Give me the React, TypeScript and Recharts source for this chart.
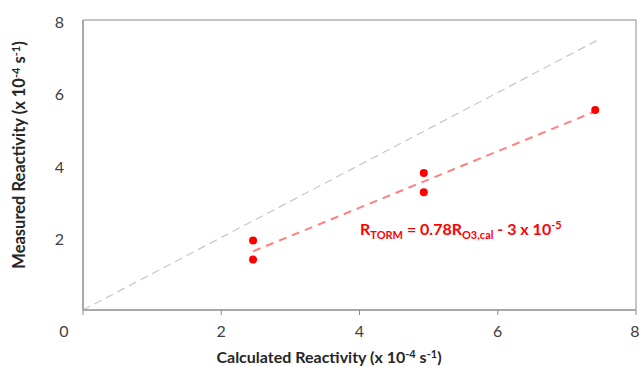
import React from 'react';
import {
  ScatterChart,
  Scatter,
  XAxis,
  YAxis,
  ReferenceArea,
  ReferenceLine,
} from 'recharts';

// measured vs calculated reactivity (x 10^-4 s^-1)
const calculated = [2.46, 2.46, 4.93, 4.93, 7.41];
const measured = [1.92, 1.39, 3.78, 3.25, 5.52];

const xTicks = [0, 2, 4, 6, 8];
const yTicks = [2, 4, 6, 8];

// fit from the equation in the chart: R = 0.78 R_cal - 0.3 (x 10^-4)
const fitSlope = 0.78;
const fitIntercept = -0.3;
const oneToOneEnd = 7.43;

const points = calculated.map((x, i) => ({ x, y: measured[i] }));
const xMin = Math.min(...calculated);
const xMax = Math.max(...calculated);
const fitLine = [
  { x: xMin, y: fitSlope * xMin + fitIntercept },
  { x: xMax, y: fitSlope * xMax + fitIntercept },
];

const FONT = 'Lato, "Open Sans", sans-serif';
const AXIS_GREY = '#8c8c8c';

const XTick = (props: any) => {
  const { x, y, payload } = props;
  const dx = payload.value === 0 ? -19 : 0;
  return (
    <text x={x + dx} y={y} dy={12} textAnchor="middle" fill="#404040" fontSize={16} fontFamily={FONT}>
      {payload.value}
    </text>
  );
};

const XTitle = () => (
  <text x={329} y={363} textAnchor="middle" fontFamily={FONT} fontWeight={700} fontSize={16} fill="#262626">
    Calculated Reactivity (x 10
    <tspan dy={-5} fontSize={11}>-4</tspan>
    <tspan dy={5}> s</tspan>
    <tspan dy={-5} fontSize={11}>-1</tspan>
    <tspan dy={5}>)</tspan>
  </text>
);

const YTitle = () => (
  <text
    x={0}
    y={0}
    transform="translate(25, 155) rotate(-90)"
    textAnchor="middle"
    fontFamily={FONT}
    fontWeight={700}
    fontSize={16.5}
    fill="#262626"
  >
    Measured Reactivity (x 10
    <tspan dy={-5} fontSize={11}>-4</tspan>
    <tspan dy={5}> s</tspan>
    <tspan dy={-5} fontSize={11}>-1</tspan>
    <tspan dy={5}>)</tspan>
  </text>
);

const Equation = () => (
  <text x={360} y={235} fontFamily={FONT} fontWeight={700} fontSize={16} fill="#ff0000">
    R
    <tspan dy={4} fontSize={11}>TORM</tspan>
    <tspan dy={-4}> = 0.78R</tspan>
    <tspan dy={4} fontSize={11}>O3,cal</tspan>
    <tspan dy={-4}> - 3 x 10</tspan>
    <tspan dy={-6} fontSize={11}>-5</tspan>
  </text>
);

export default function App() {
  return (
    <div style={{ position: 'absolute', left: 0, top: 0, width: 639, height: 366, background: '#fff' }}>
      <ScatterChart width={639} height={366} margin={{ top: 20, right: 3, left: 23, bottom: 26 }}>
        <XAxis
          type="number"
          dataKey="x"
          domain={[0, 8]}
          ticks={xTicks}
          height={30}
          tick={<XTick />}
          tickSize={5}
          tickMargin={10}
          stroke={AXIS_GREY}
          tickLine={{ stroke: AXIS_GREY }}
          label={<XTitle />}
        />
        <YAxis
          type="number"
          dataKey="y"
          domain={[0, 8]}
          ticks={yTicks}
          width={60}
          tickLine={false}
          tickSize={6}
          tickMargin={13}
          stroke={AXIS_GREY}
          tick={{ fill: '#404040', fontSize: 16, fontFamily: FONT, dy: 2 }}
          label={<YTitle />}
        />
        <ReferenceArea x1={0} x2={8} y1={0} y2={8} fill="none" stroke={AXIS_GREY} strokeWidth={1} />
        <ReferenceLine
          segment={[{ x: 0, y: 0 }, { x: oneToOneEnd, y: oneToOneEnd }]}
          stroke="#c8c8c8"
          strokeWidth={1.25}
          strokeDasharray="8 5"
        />
        <Scatter
          data={fitLine}
          line={{ stroke: '#ff8080', strokeWidth: 2, strokeDasharray: '8 6' }}
          shape={() => null}
          isAnimationActive={false}
        />
        <Scatter data={points} fill="#ff0000" isAnimationActive={false} shape={(p: any) => <circle cx={p.cx} cy={p.cy} r={4} fill="#ff0000" />} />
        <ReferenceArea x1={0} x2={8} y1={0} y2={8} fill="none" stroke="none" label={<Equation />} />
      </ScatterChart>
    </div>
  );
}
